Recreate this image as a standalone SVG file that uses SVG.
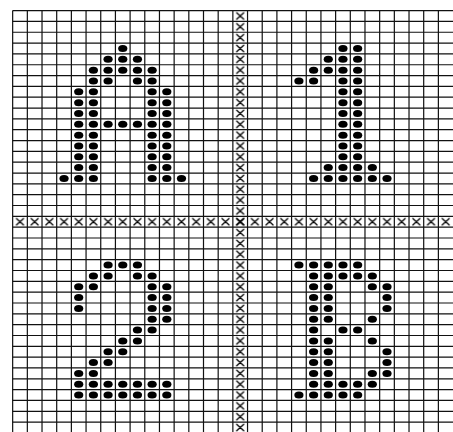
<svg xmlns="http://www.w3.org/2000/svg" xmlns:xlink="http://www.w3.org/1999/xlink" width="453" height="432" viewBox="0 0 453 432">
<style>
.grid{fill:none;stroke:#111;stroke-width:1.2}
.xm{fill:none;stroke:#000;stroke-width:1.3;stroke-linecap:round}
.dot{fill:#000}
</style>
<defs>
<ellipse id="d" class="dot" cx="0" cy="0" rx="4.6" ry="3.5"/>
<pattern id="xp" patternUnits="userSpaceOnUse" x="12.66" y="10.58" width="14.68" height="10.83">
<path class="xm" d="M3.84 2.2L10.84 8.63M10.84 2.2L3.84 8.63"/>
</pattern>
</defs>
<rect width="453" height="432" fill="#fff"/>
<g id="crosses">
<rect x="232.86" y="10.58" width="14.68" height="422.4" fill="url(#xp)"/>
<rect x="12.66" y="216.35" width="440.4" height="10.83" fill="url(#xp)"/>
</g>
<g id="grid">
<path class="grid" d="M12.66 10.58V432M27.34 10.58V432M42.02 10.58V432M56.70 10.58V432M71.38 10.58V432M86.06 10.58V432M100.74 10.58V432M115.42 10.58V432M130.10 10.58V432M144.78 10.58V432M159.46 10.58V432M174.14 10.58V432M188.82 10.58V432M203.50 10.58V432M218.18 10.58V432M232.86 10.58V432M247.54 10.58V432M262.22 10.58V432M276.90 10.58V432M291.58 10.58V432M306.26 10.58V432M320.94 10.58V432M335.62 10.58V432M350.30 10.58V432M364.98 10.58V432M379.66 10.58V432M394.34 10.58V432M409.02 10.58V432M423.70 10.58V432M438.38 10.58V432"/>
<path class="grid" d="M12.66 10.58H453M12.66 21.41H453M12.66 32.24H453M12.66 43.07H453M12.66 53.90H453M12.66 64.73H453M12.66 75.56H453M12.66 86.39H453M12.66 97.22H453M12.66 108.05H453M12.66 118.88H453M12.66 129.71H453M12.66 140.54H453M12.66 151.37H453M12.66 162.20H453M12.66 173.03H453M12.66 183.86H453M12.66 194.69H453M12.66 205.52H453M12.66 216.35H453M12.66 227.18H453M12.66 238.01H453M12.66 248.84H453M12.66 259.67H453M12.66 270.50H453M12.66 281.33H453M12.66 292.16H453M12.66 302.99H453M12.66 313.82H453M12.66 324.65H453M12.66 335.48H453M12.66 346.31H453M12.66 357.14H453M12.66 367.97H453M12.66 378.80H453M12.66 389.63H453M12.66 400.46H453M12.66 411.29H453M12.66 422.12H453"/>
</g>
<g id="letter-A">
<g transform="translate(0,48.49)"><use href="#d" x="122.76"/></g>
<g transform="translate(0,59.32)"><use href="#d" x="108.08"/><use href="#d" x="122.76"/><use href="#d" x="137.44"/></g>
<g transform="translate(0,70.15)"><use href="#d" x="93.40"/><use href="#d" x="108.08"/><use href="#d" x="122.76"/><use href="#d" x="137.44"/><use href="#d" x="152.12"/></g>
<g transform="translate(0,80.98)"><use href="#d" x="93.40"/><use href="#d" x="108.08"/><use href="#d" x="137.44"/><use href="#d" x="152.12"/></g>
<g transform="translate(0,91.81)"><use href="#d" x="78.72"/><use href="#d" x="93.40"/><use href="#d" x="152.12"/><use href="#d" x="166.80"/></g>
<g transform="translate(0,102.64)"><use href="#d" x="78.72"/><use href="#d" x="93.40"/><use href="#d" x="152.12"/><use href="#d" x="166.80"/></g>
<g transform="translate(0,113.47)"><use href="#d" x="78.72"/><use href="#d" x="93.40"/><use href="#d" x="152.12"/><use href="#d" x="166.80"/></g>
<g transform="translate(0,124.30)"><use href="#d" x="78.72"/><use href="#d" x="93.40"/><use href="#d" x="108.08"/><use href="#d" x="122.76"/><use href="#d" x="137.44"/><use href="#d" x="152.12"/><use href="#d" x="166.80"/></g>
<g transform="translate(0,135.13)"><use href="#d" x="78.72"/><use href="#d" x="93.40"/><use href="#d" x="152.12"/><use href="#d" x="166.80"/></g>
<g transform="translate(0,145.96)"><use href="#d" x="78.72"/><use href="#d" x="93.40"/><use href="#d" x="152.12"/><use href="#d" x="166.80"/></g>
<g transform="translate(0,156.79)"><use href="#d" x="78.72"/><use href="#d" x="93.40"/><use href="#d" x="152.12"/><use href="#d" x="166.80"/></g>
<g transform="translate(0,167.62)"><use href="#d" x="78.72"/><use href="#d" x="93.40"/><use href="#d" x="152.12"/><use href="#d" x="166.80"/></g>
<g transform="translate(0,178.45)"><use href="#d" x="64.04"/><use href="#d" x="78.72"/><use href="#d" x="93.40"/><use href="#d" x="152.12"/><use href="#d" x="166.80"/><use href="#d" x="181.48"/></g>
</g>
<g id="digit-1">
<g transform="translate(0,48.49)"><use href="#d" x="342.96"/><use href="#d" x="357.64"/></g>
<g transform="translate(0,59.32)"><use href="#d" x="328.28"/><use href="#d" x="342.96"/><use href="#d" x="357.64"/></g>
<g transform="translate(0,70.15)"><use href="#d" x="313.60"/><use href="#d" x="328.28"/><use href="#d" x="342.96"/><use href="#d" x="357.64"/></g>
<g transform="translate(0,80.98)"><use href="#d" x="298.92"/><use href="#d" x="313.60"/><use href="#d" x="342.96"/><use href="#d" x="357.64"/></g>
<g transform="translate(0,91.81)"><use href="#d" x="342.96"/><use href="#d" x="357.64"/></g>
<g transform="translate(0,102.64)"><use href="#d" x="342.96"/><use href="#d" x="357.64"/></g>
<g transform="translate(0,113.47)"><use href="#d" x="342.96"/><use href="#d" x="357.64"/></g>
<g transform="translate(0,124.30)"><use href="#d" x="342.96"/><use href="#d" x="357.64"/></g>
<g transform="translate(0,135.13)"><use href="#d" x="342.96"/><use href="#d" x="357.64"/></g>
<g transform="translate(0,145.96)"><use href="#d" x="342.96"/><use href="#d" x="357.64"/></g>
<g transform="translate(0,156.79)"><use href="#d" x="342.96"/><use href="#d" x="357.64"/></g>
<g transform="translate(0,167.62)"><use href="#d" x="328.28"/><use href="#d" x="342.96"/><use href="#d" x="357.64"/><use href="#d" x="372.32"/></g>
<g transform="translate(0,178.45)"><use href="#d" x="313.60"/><use href="#d" x="328.28"/><use href="#d" x="342.96"/><use href="#d" x="357.64"/><use href="#d" x="372.32"/><use href="#d" x="387.00"/></g>
</g>
<g id="digit-2">
<g transform="translate(0,265.09)"><use href="#d" x="108.08"/><use href="#d" x="122.76"/><use href="#d" x="137.44"/></g>
<g transform="translate(0,275.92)"><use href="#d" x="93.40"/><use href="#d" x="108.08"/><use href="#d" x="137.44"/><use href="#d" x="152.12"/></g>
<g transform="translate(0,286.75)"><use href="#d" x="78.72"/><use href="#d" x="93.40"/><use href="#d" x="152.12"/><use href="#d" x="166.80"/></g>
<g transform="translate(0,297.58)"><use href="#d" x="78.72"/><use href="#d" x="152.12"/><use href="#d" x="166.80"/></g>
<g transform="translate(0,308.41)"><use href="#d" x="78.72"/><use href="#d" x="152.12"/><use href="#d" x="166.80"/></g>
<g transform="translate(0,319.24)"><use href="#d" x="152.12"/><use href="#d" x="166.80"/></g>
<g transform="translate(0,330.07)"><use href="#d" x="137.44"/><use href="#d" x="152.12"/></g>
<g transform="translate(0,340.90)"><use href="#d" x="122.76"/><use href="#d" x="137.44"/></g>
<g transform="translate(0,351.73)"><use href="#d" x="108.08"/><use href="#d" x="122.76"/></g>
<g transform="translate(0,362.56)"><use href="#d" x="93.40"/><use href="#d" x="108.08"/></g>
<g transform="translate(0,373.39)"><use href="#d" x="78.72"/><use href="#d" x="93.40"/></g>
<g transform="translate(0,384.22)"><use href="#d" x="78.72"/><use href="#d" x="93.40"/><use href="#d" x="108.08"/><use href="#d" x="122.76"/><use href="#d" x="137.44"/><use href="#d" x="152.12"/><use href="#d" x="166.80"/></g>
<g transform="translate(0,395.05)"><use href="#d" x="78.72"/><use href="#d" x="93.40"/><use href="#d" x="108.08"/><use href="#d" x="122.76"/><use href="#d" x="137.44"/><use href="#d" x="152.12"/><use href="#d" x="166.80"/></g>
</g>
<g id="letter-B">
<g transform="translate(0,265.09)"><use href="#d" x="298.92"/><use href="#d" x="313.60"/><use href="#d" x="328.28"/><use href="#d" x="342.96"/><use href="#d" x="357.64"/></g>
<g transform="translate(0,275.92)"><use href="#d" x="313.60"/><use href="#d" x="328.28"/><use href="#d" x="342.96"/><use href="#d" x="357.64"/><use href="#d" x="372.32"/></g>
<g transform="translate(0,286.75)"><use href="#d" x="313.60"/><use href="#d" x="328.28"/><use href="#d" x="372.32"/><use href="#d" x="387.00"/></g>
<g transform="translate(0,297.58)"><use href="#d" x="313.60"/><use href="#d" x="328.28"/><use href="#d" x="387.00"/></g>
<g transform="translate(0,308.41)"><use href="#d" x="313.60"/><use href="#d" x="328.28"/><use href="#d" x="387.00"/></g>
<g transform="translate(0,319.24)"><use href="#d" x="313.60"/><use href="#d" x="328.28"/><use href="#d" x="372.32"/></g>
<g transform="translate(0,330.07)"><use href="#d" x="313.60"/><use href="#d" x="342.96"/><use href="#d" x="357.64"/></g>
<g transform="translate(0,340.90)"><use href="#d" x="313.60"/><use href="#d" x="328.28"/><use href="#d" x="372.32"/></g>
<g transform="translate(0,351.73)"><use href="#d" x="313.60"/><use href="#d" x="328.28"/><use href="#d" x="387.00"/></g>
<g transform="translate(0,362.56)"><use href="#d" x="313.60"/><use href="#d" x="328.28"/><use href="#d" x="387.00"/></g>
<g transform="translate(0,373.39)"><use href="#d" x="313.60"/><use href="#d" x="328.28"/><use href="#d" x="372.32"/><use href="#d" x="387.00"/></g>
<g transform="translate(0,384.22)"><use href="#d" x="313.60"/><use href="#d" x="328.28"/><use href="#d" x="342.96"/><use href="#d" x="357.64"/><use href="#d" x="372.32"/></g>
<g transform="translate(0,395.05)"><use href="#d" x="298.92"/><use href="#d" x="313.60"/><use href="#d" x="328.28"/><use href="#d" x="342.96"/><use href="#d" x="357.64"/></g>
</g>
</svg>
